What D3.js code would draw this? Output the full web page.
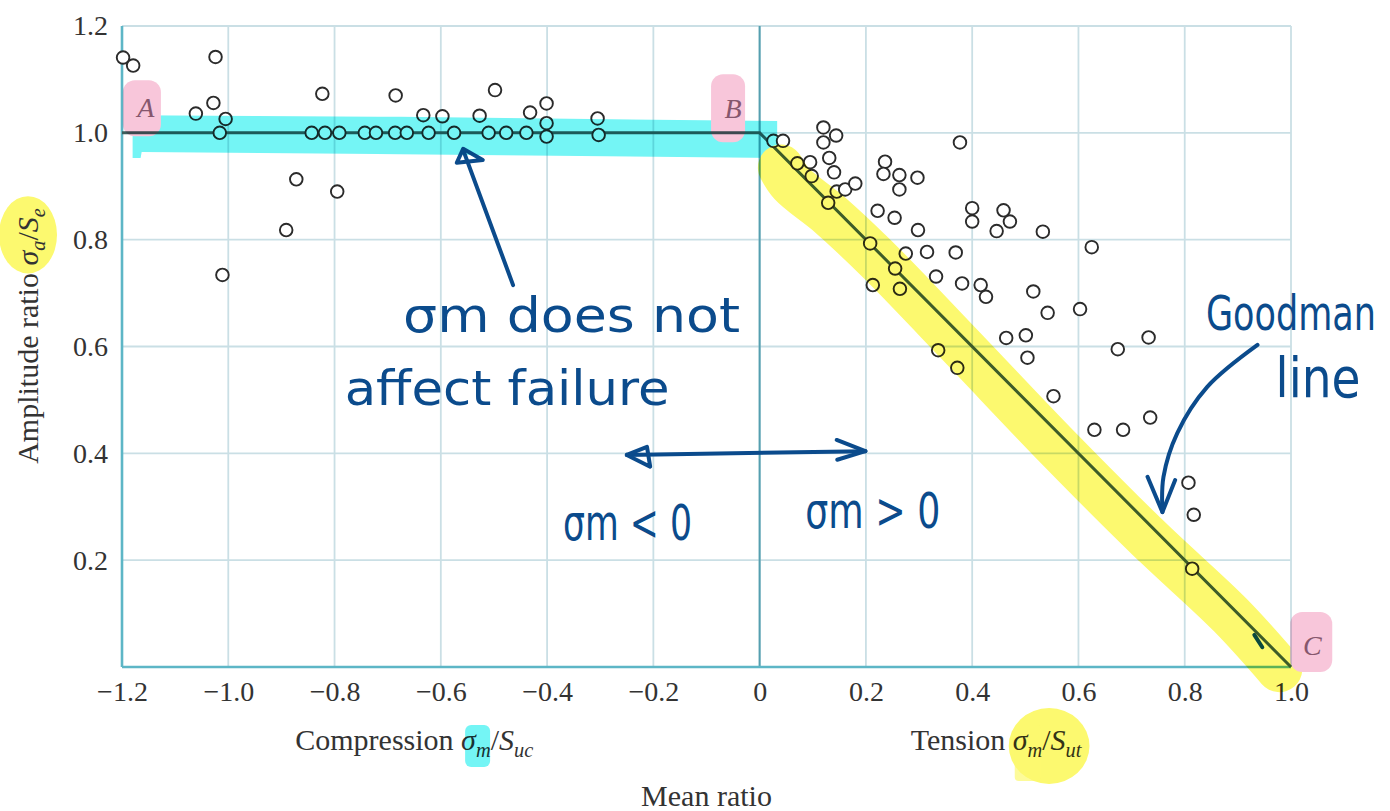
<!DOCTYPE html>
<html>
<head>
<meta charset="utf-8">
<script src="https://cdn.jsdelivr.net/npm/d3@7"></script>
<style>
  body { margin: 0; background: #fff; }
  svg { display: block; }
  .serif { font-family: "Liberation Serif", "Times New Roman", serif; }
  .hand { font-family: "DejaVu Sans", sans-serif; fill: #0b4b8c; }
</style>
</head>
<body>
<svg></svg>
<script>
// Mean ratio vs amplitude ratio, fatigue test points with the Goodman line

var xTicks = [-1.2, -1.0, -0.8, -0.6, -0.4, -0.2, 0, 0.2, 0.4, 0.6, 0.8, 1.0];
var yTicks = [0.2, 0.4, 0.6, 0.8, 1.0, 1.2];

// compression side (sigma_m / S_uc)
var compressionX = [-1.198, -1.179, -1.024, -1.061, -1.028, -1.005, -1.016, -1.011, -0.872, -0.891,
                    -0.795, -0.823, -0.685, -0.633, -0.597, -0.498, -0.527, -0.432, -0.401, -0.401,
                    -0.305, -0.843, -0.818, -0.791, -0.743, -0.722, -0.686, -0.664, -0.623, -0.575,
                    -0.510, -0.477, -0.439, -0.401, -0.303];
var compressionY = [1.141, 1.126, 1.142, 1.036, 1.056, 1.026, 1.000, 0.734, 0.913, 0.818,
                    0.890, 1.073, 1.070, 1.033, 1.031, 1.080, 1.032, 1.038, 1.055, 1.018,
                    1.027, 1.000, 1.000, 1.000, 1.000, 1.000, 1.000, 1.000, 1.000, 1.000,
                    1.000, 1.000, 1.000, 0.993, 0.996];

// tension side (sigma_m / S_ut)
var tensionX = [0.026, 0.044, 0.120, 0.144, 0.120, 0.071, 0.095, 0.098, 0.131, 0.140,
                0.145, 0.161, 0.180, 0.129, 0.236, 0.233, 0.263, 0.263, 0.297, 0.377,
                0.222, 0.254, 0.298, 0.208, 0.275, 0.315, 0.369, 0.255, 0.264, 0.213,
                0.332, 0.381, 0.416, 0.426, 0.400, 0.400, 0.459, 0.471, 0.446, 0.533,
                0.625, 0.515, 0.542, 0.603, 0.464, 0.501, 0.504, 0.674, 0.336, 0.372,
                0.553, 0.732, 0.630, 0.684, 0.735, 0.807, 0.817, 0.814];
var tensionY = [0.985, 0.985, 1.010, 0.995, 0.982, 0.943, 0.945, 0.919, 0.953, 0.926,
                0.890, 0.894, 0.905, 0.869, 0.946, 0.923, 0.921, 0.894, 0.916, 0.982,
                0.854, 0.841, 0.818, 0.793, 0.774, 0.777, 0.776, 0.746, 0.708, 0.715,
                0.731, 0.718, 0.715, 0.693, 0.859, 0.834, 0.855, 0.834, 0.816, 0.815,
                0.786, 0.703, 0.663, 0.670, 0.616, 0.621, 0.579, 0.595, 0.593, 0.560,
                0.507, 0.617, 0.444, 0.444, 0.467, 0.345, 0.285, 0.184];

// Goodman line A - B - C
var goodmanX = [-1.2, 0, 1.0];
var goodmanY = [1.0, 1.0, 0];

var svg = d3.select("svg").attr("width", 1390).attr("height", 811),
    margin = {top: 26, right: 99, bottom: 144, left: 122},
    width = +svg.attr("width") - margin.left - margin.right,
    height = +svg.attr("height") - margin.top - margin.bottom;

var g = svg.append("g").attr("transform", "translate(" + margin.left + "," + margin.top + ")");

var x = d3.scaleLinear().domain([-1.2, 1.0]).range([0, width]);
var y = d3.scaleLinear().domain([0, 1.2]).range([height, 0]);

var gridcolor = "#cadfe5",
    axiscolor = "#5db6c6",
    inkcolor = "#0b4b8c";

// grid
g.selectAll("line.vgrid")
  .data(xTicks)
  .enter().append("line")
    .attr("x1", function(d) { return x(d); })
    .attr("x2", function(d) { return x(d); })
    .attr("y1", 0).attr("y2", height)
    .attr("stroke", gridcolor).attr("stroke-width", 1.8);

g.selectAll("line.hgrid")
  .data(yTicks)
  .enter().append("line")
    .attr("x1", 0).attr("x2", width)
    .attr("y1", function(d) { return y(d); })
    .attr("y2", function(d) { return y(d); })
    .attr("stroke", gridcolor).attr("stroke-width", 1.8);

// axis lines
g.append("line").attr("x1", x(-1.2)).attr("x2", x(-1.2)).attr("y1", 0).attr("y2", height)
  .attr("stroke", axiscolor).attr("stroke-width", 2.6);
g.append("line").attr("x1", x(0)).attr("x2", x(0)).attr("y1", 0).attr("y2", height)
  .attr("stroke", "#559fb0").attr("stroke-width", 2);
g.append("line").attr("x1", 0).attr("x2", width).attr("y1", y(0)).attr("y2", y(0))
  .attr("stroke", axiscolor).attr("stroke-width", 2.6);

// tick labels
function tickFmt(d) { return d === 0 ? "0" : d3.format(".1f")(d); }

var xAxis = g.append("g")
    .attr("class", "serif")
    .attr("transform", "translate(0," + height + ")")
    .call(d3.axisBottom(x).tickValues(xTicks).tickSize(0).tickPadding(14).tickFormat(tickFmt));
xAxis.select(".domain").remove();

var yAxis = g.append("g")
    .attr("class", "serif")
    .call(d3.axisLeft(y).tickValues(yTicks).tickSize(0).tickPadding(14).tickFormat(tickFmt));
yAxis.select(".domain").remove();

svg.selectAll(".tick text")
  .attr("fill", "#333")
  .style("font-family", "'Liberation Serif', serif")
  .style("font-size", "28px");

// Goodman line
var line = d3.line()
    .x(function(d) { return x(d[0]); })
    .y(function(d) { return y(d[1]); });

g.append("path")
  .datum(d3.zip(goodmanX, goodmanY))
  .attr("d", line)
  .attr("fill", "none")
  .attr("stroke", "#3d5e5c")
  .attr("stroke-width", 3);

// test points
var points = d3.zip(compressionX, compressionY).concat(d3.zip(tensionX, tensionY));
g.selectAll("circle.pt")
  .data(points)
  .enter().append("circle")
    .attr("class", "pt")
    .attr("cx", function(d) { return x(d[0]); })
    .attr("cy", function(d) { return y(d[1]); })
    .attr("r", 6.3)
    .attr("fill", "#fff")
    .attr("stroke", "#2b2b2b")
    .attr("stroke-width", 1.9);

// axis titles, with subscripts
function mathText(sel, parts, size) {
  var t = sel.append("text").attr("class", "serif").attr("fill", "#333")
    .style("font-size", size + "px");
  var shift = 0;
  parts.forEach(function(p) {
    var ts = t.append("tspan").text(p.t);
    var want = p.sub ? 7 : 0;
    if (want != shift) ts.attr("dy", want - shift);
    shift = want;
    if (p.it) ts.style("font-style", "italic");
    if (p.sub) ts.style("font-size", (size * 0.68) + "px");
  });
  return t;
}

var yTitle = svg.append("g").attr("transform", "translate(38," + 336 + ") rotate(-90)");
var yText = mathText(yTitle, [
  {t: "Amplitude ratio "}, {t: "σ", it: true}, {t: "a", it: true, sub: true},
  {t: "/"}, {t: "S", it: true}, {t: "e", it: true, sub: true}], 30)
  .attr("text-anchor", "middle");

var compText = mathText(svg.append("g"), [
  {t: "Compression "}, {t: "σ", it: true}, {t: "m", it: true, sub: true},
  {t: "/"}, {t: "S", it: true}, {t: "uc", it: true, sub: true}], 30)
  .attr("x", margin.left + x(-0.65)).attr("y", 750).attr("text-anchor", "middle");

var tensText = mathText(svg.append("g"), [
  {t: "Tension "}, {t: "σ", it: true}, {t: "m", it: true, sub: true},
  {t: "/"}, {t: "S", it: true}, {t: "ut", it: true, sub: true}], 30)
  .attr("x", margin.left + x(0.445)).attr("y", 750).attr("text-anchor", "middle");

svg.append("text").attr("class", "serif").attr("fill", "#333")
  .style("font-size", "30px")
  .attr("x", margin.left + x(-0.1)).attr("y", 806).attr("text-anchor", "middle")
  .text("Mean ratio");

// corner letters A, B, C
var corners = [
  {t: "A", x: -1.155, y: 1.048, box: [-23, -27, 38, 56]},
  {t: "B", x: -0.050, y: 1.046, box: [-22, -34, 34, 68]},
  {t: "C", x: 1.040, y: 0.041, box: [-22, -33, 42, 60]}
];

// highlighter layer
var hl = svg.append("g").style("mix-blend-mode", "multiply");
var hlp = hl.append("g").attr("transform", "translate(" + margin.left + "," + margin.top + ")");

// cyan band over A-B
var cyanBand = [[-1.180, 1.033], [-0.677, 1.030], [0.033, 1.022], [0.033, 0.953],
                [-0.677, 0.960], [-1.163, 0.964], [-1.165, 0.953], [-1.180, 0.953]];
hlp.append("path")
  .attr("d", d3.line().x(function(d) { return x(d[0]); }).y(function(d) { return y(d[1]); })
    .curve(d3.curveLinearClosed)(cyanBand))
  .attr("fill", "#74f5f5");

// yellow band over B-C
var yellowBand = [[0.040, 0.935], [0.060, 0.905], [0.133, 0.846], [0.227, 0.758], [0.377, 0.603],
                  [0.566, 0.406], [0.735, 0.238], [0.886, 0.097], [0.978, -0.004]];
hlp.append("path")
  .attr("d", line.curve(d3.curveCatmullRom)(yellowBand))
  .attr("fill", "none")
  .attr("stroke", "#fcf96f")
  .attr("stroke-width", 46)
  .attr("stroke-linecap", "round")
  .attr("stroke-linejoin", "round");
line.curve(d3.curveLinear);

corners.forEach(function(c) {
  hlp.append("rect")
    .attr("x", x(c.x) + c.box[0]).attr("y", y(c.y) + c.box[1])
    .attr("width", c.box[2]).attr("height", c.box[3])
    .attr("rx", 12)
    .attr("fill", "#f8c6da");
});

g.selectAll("text.corner")
  .data(corners)
  .enter().append("text")
    .attr("class", "serif corner")
    .attr("x", function(d) { return x(d.x); })
    .attr("y", function(d) { return y(d.y) + 10; })
    .attr("text-anchor", "middle")
    .attr("fill", "#8a7080")
    .style("font-style", "italic")
    .style("font-size", "28px")
    .text(function(d) { return d.t; });

// highlights on the axis titles
function charSpan(textNode, i0, i1) {
  var a = textNode.getExtentOfChar(i0), b = textNode.getExtentOfChar(i1);
  return {x0: a.x, x1: b.x + b.width, y0: Math.min(a.y, b.y), y1: Math.max(a.y + a.height, b.y + b.height)};
}

var ys = charSpan(yText.node(), 16, 20);
yTitle.insert("ellipse", "text")
  .attr("cx", (ys.x0 + ys.x1) / 2 + 2).attr("cy", (ys.y0 + ys.y1) / 2 - 2)
  .attr("rx", (ys.x1 - ys.x0) / 2 + 10).attr("ry", 29)
  .attr("fill", "#fcf96f");

var cs = charSpan(compText.node(), 12, 13);
hl.append("rect")
  .attr("x", cs.x0 + 4).attr("y", cs.y0 + 2)
  .attr("width", 25).attr("height", cs.y1 - cs.y0 + 4)
  .attr("rx", 6).attr("fill", "#74f5f5");

var ts = charSpan(tensText.node(), 8, 13);
hl.append("ellipse")
  .attr("cx", (ts.x0 + ts.x1) / 2 + 2).attr("cy", (ts.y0 + ts.y1) / 2 + 4)
  .attr("rx", (ts.x1 - ts.x0) / 2 + 6).attr("ry", 38)
  .attr("fill", "#fcf96f");
hl.append("rect")
  .attr("x", ts.x0 + 2).attr("y", ts.y0 + 2)
  .attr("width", 26).attr("height", 56)
  .attr("rx", 4).attr("fill", "#fcf96f").attr("opacity", 0.7);

// handwritten notes
var ink = g.append("g")
  .attr("fill", "none")
  .attr("stroke", inkcolor)
  .attr("stroke-width", 4)
  .attr("stroke-linecap", "round")
  .attr("stroke-linejoin", "round");

var notes = [
  {t: "σm does not", x: -0.671, y: 0.627, w: 337, s: 42, sy: 1.15},
  {t: "affect failure", x: -0.781, y: 0.490, w: 325, s: 42, sy: 1.15},
  {t: "σm < 0", x: -0.370, y: 0.238, w: 129, s: 42, sy: 1.2},
  {t: "σm > 0", x: 0.086, y: 0.260, w: 135, s: 42, sy: 1.2},
  {t: "Goodman", x: 0.840, y: 0.631, w: 170, s: 35, sy: 1.35},
  {t: "line", x: 0.971, y: 0.505, w: 85, s: 46, sy: 1.2}
];
g.selectAll("text.hand")
  .data(notes)
  .enter().append("text")
    .attr("class", "hand")
    .attr("transform", function(d) {
      return "translate(" + x(d.x) + "," + y(d.y) + ") scale(1," + d.sy + ")";
    })
    .attr("textLength", function(d) { return d.w; })
    .attr("lengthAdjust", "spacingAndGlyphs")
    .style("font-size", function(d) { return d.s + "px"; })
    .text(function(d) { return d.t; });

var strokes = [
  // arrow to the flat part
  [[-0.464, 0.715], [-0.558, 0.968]],
  [[-0.570, 0.944], [-0.558, 0.970], [-0.521, 0.949], [-0.570, 0.944]],
  // two-headed arrow
  [[-0.250, 0.397], [0.199, 0.404]],
  [[-0.250, 0.397], [-0.212, 0.412], [-0.206, 0.375], [-0.250, 0.397]],
  [[0.199, 0.404], [0.145, 0.425]],
  [[0.199, 0.404], [0.146, 0.388]],
  // arrowhead for the Goodman note
  [[0.730, 0.356], [0.758, 0.290], [0.782, 0.350]],
  // small tick near C
  [[0.931, 0.060], [0.946, 0.037]]
];
strokes.forEach(function(s) {
  ink.append("path").attr("d", line(s));
});

var goodmanArrow = [[0.937, 0.603], [0.842, 0.524], [0.786, 0.438], [0.760, 0.356], [0.758, 0.290]];
ink.append("path").attr("d", d3.line()
  .x(function(d) { return x(d[0]); })
  .y(function(d) { return y(d[1]); })
  .curve(d3.curveCatmullRom)(goodmanArrow));
</script>
</body>
</html>
